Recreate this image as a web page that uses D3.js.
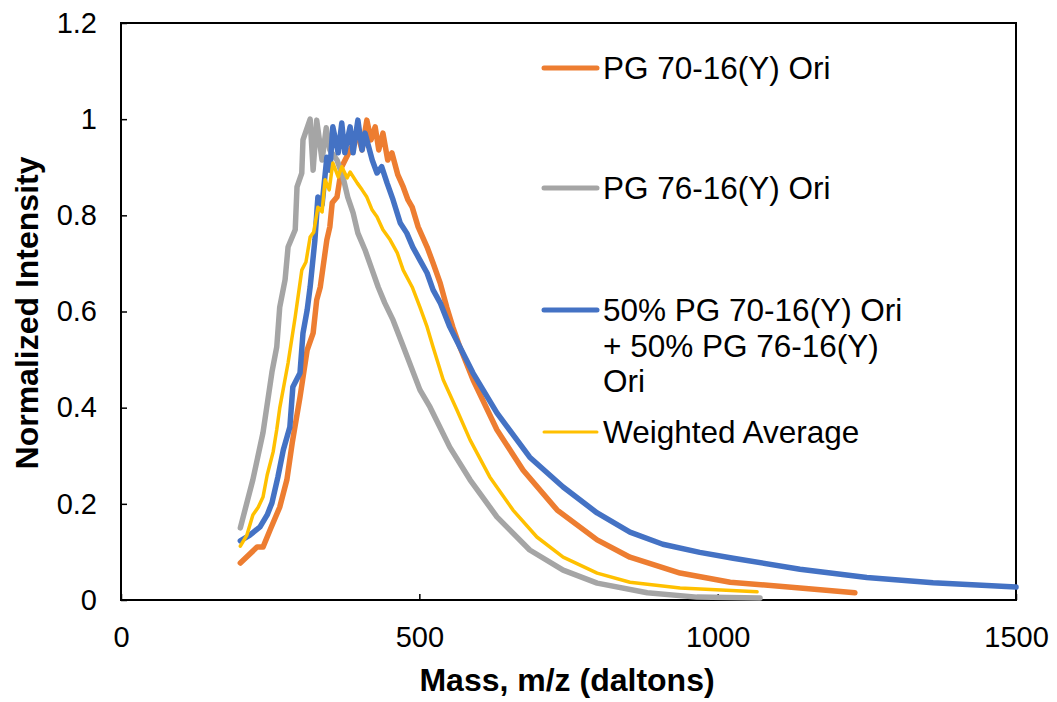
<!DOCTYPE html>
<html>
<head>
<meta charset="utf-8">
<script src="https://cdn.jsdelivr.net/npm/d3@7"></script>
<style>
  body { margin: 0; background: #fff; }
  text { font-family: Arial, "Liberation Sans", sans-serif; }
</style>
</head>
<body>
<div id="chart"></div>
<script>
// series data: [mass, normalized intensity]
var pg70 = [[200,0.077],[228,0.110],[238,0.110],[250,0.146],[266,0.193],[278,0.250],[287,0.327],[300,0.422],
  [312,0.520],[322,0.555],[328,0.624],[334,0.651],[345,0.749],[350,0.776],[354,0.826],[362,0.838],[370,0.901],
  [384,0.936],[397,0.967],[404,0.936],[412,0.998],[419,0.957],[426,0.984],[432,0.936],[439,0.971],[447,0.915],
  [454,0.930],[464,0.884],[473,0.859],[481,0.832],[488,0.817],[498,0.776],[513,0.734],[523,0.701],[535,0.659],
  [546,0.609],[556,0.568],[568,0.526],[590,0.458],[630,0.354],[674,0.270],[731,0.187],[798,0.125],[853,0.089],
  [937,0.056],[1021,0.037],[1138,0.025],[1230,0.015]];

var pg76 = [[200,0.150],[221,0.250],[238,0.348],[253,0.474],[261,0.526],[266,0.609],[275,0.666],[280,0.734],
  [292,0.770],[295,0.859],[303,0.888],[305,0.957],[317,1.000],[322,0.894],[328,0.998],[337,0.915],[344,0.982],
  [350,0.936],[362,0.915],[372,0.880],[380,0.838],[389,0.805],[397,0.763],[409,0.728],[421,0.686],[431,0.651],
  [442,0.618],[456,0.582],[471,0.534],[501,0.437],[518,0.401],[551,0.318],[585,0.250],[630,0.173],[685,0.104],
  [741,0.062],[798,0.035],[882,0.015],[965,0.006],[1071,0.004]];

var mix50 = [[200,0.123],[216,0.135],[233,0.152],[245,0.177],[253,0.202],[263,0.256],[272,0.312],[283,0.360],
  [288,0.443],[300,0.472],[305,0.555],[312,0.603],[317,0.651],[325,0.749],[330,0.838],[337,0.822],[345,0.921],
  [350,0.894],[355,0.984],[364,0.930],[370,0.992],[375,0.930],[384,0.984],[389,0.930],[397,0.998],[404,0.936],
  [409,0.971],[421,0.915],[429,0.888],[437,0.901],[446,0.867],[456,0.832],[468,0.784],[479,0.763],[489,0.734],
  [501,0.707],[513,0.680],[523,0.645],[535,0.618],[551,0.568],[568,0.526],[590,0.472],[630,0.389],[685,0.297],
  [741,0.235],[798,0.181],[853,0.141],[908,0.116],[970,0.099],[1026,0.087],[1138,0.064],[1250,0.047],
  [1361,0.036],[1500,0.027]];

var weighted = [[200,0.112],[211,0.135],[221,0.177],[230,0.193],[238,0.214],[245,0.260],[255,0.308],[261,0.354],
  [266,0.399],[280,0.493],[292,0.589],[303,0.686],[310,0.703],[317,0.755],[323,0.765],[330,0.817],[337,0.807],
  [342,0.874],[349,0.853],[355,0.909],[364,0.880],[370,0.901],[379,0.878],[384,0.890],[396,0.867],[404,0.853],
  [412,0.838],[421,0.811],[429,0.797],[439,0.770],[451,0.749],[463,0.722],[473,0.686],[488,0.651],[501,0.609],
  [513,0.568],[523,0.526],[540,0.458],[563,0.395],[585,0.333],[618,0.256],[657,0.187],[697,0.131],[741,0.089],
  [798,0.056],[853,0.037],[937,0.025],[1066,0.017]];

var xTicks = [0, 500, 1000, 1500];
var yTicks = [0, 0.2, 0.4, 0.6, 0.8, 1, 1.2];

var seriesNames = ["PG 70-16(Y) Ori", "PG 76-16(Y) Ori", "50% PG 70-16(Y) Ori + 50% PG 76-16(Y) Ori", "Weighted Average"];
var seriesColors = ["#ED7D31", "#A5A5A5", "#4472C4", "#FFC000"];
var seriesWidths = [5.5, 5.5, 5.5, 3.5];

var width = 1057, height = 702;
var margin = {top: 23, right: 41, bottom: 102, left: 121};
var w = width - margin.left - margin.right,
    h = height - margin.top - margin.bottom;

var svg = d3.select("#chart")
  .append("svg")
    .attr("width", width)
    .attr("height", height)
  .append("g")
    .attr("transform", "translate(" + margin.left + "," + margin.top + ")");

var x = d3.scaleLinear().domain([0, 1500]).range([0, w]);
var y = d3.scaleLinear().domain([0, 1.2]).range([h, 0]);

// axes with inside ticks
var xAxis = svg.append("g")
  .attr("transform", "translate(0," + h + ")")
  .call(d3.axisBottom(x).tickValues(xTicks).tickSize(-6).tickPadding(26).tickFormat(d3.format("d")));
var yAxis = svg.append("g")
  .call(d3.axisLeft(y).tickValues(yTicks).tickSize(-6).tickPadding(24).tickFormat(function(d){ return d3.format("")(d); }));

[xAxis, yAxis].forEach(function(a){
  a.select(".domain").remove();
  a.selectAll(".tick line").attr("stroke", "#000").attr("stroke-width", 1.5);
  a.selectAll(".tick text").style("font-size", "29px").attr("fill", "#000");
});

// plot frame
svg.append("rect")
  .attr("width", w).attr("height", h)
  .attr("fill", "none").attr("stroke", "#000").attr("stroke-width", 2);

var line = d3.line()
  .x(function(d){ return x(d[0]); })
  .y(function(d){ return y(d[1]); });

var allSeries = [pg70, pg76, mix50, weighted];
svg.selectAll("path.series")
  .data(allSeries)
  .enter()
  .append("path")
    .attr("class", "series")
    .attr("d", line)
    .attr("fill", "none")
    .attr("stroke", function(d,i){ return seriesColors[i]; })
    .attr("stroke-width", function(d,i){ return seriesWidths[i]; })
    .attr("stroke-linejoin", "round")
    .attr("stroke-linecap", "round");

// axis titles
svg.append("text")
  .attr("x", 567 - margin.left)
  .attr("y", 691 - margin.top)
  .attr("text-anchor", "middle")
  .style("font-size", "32px")
  .style("font-weight", "bold")
  .text("Mass, m/z (daltons)");

svg.append("text")
  .attr("transform", "translate(" + (38 - margin.left) + "," + (313 - margin.top) + ") rotate(-90)")
  .attr("text-anchor", "middle")
  .style("font-size", "32px")
  .style("font-weight", "bold")
  .text("Normalized Intensity");

// legend
var legendRows = [
  {lines: ["PG 70-16(Y) Ori"], y: 68},
  {lines: ["PG 76-16(Y) Ori"], y: 188},
  {lines: ["50% PG 70-16(Y) Ori", "+ 50% PG 76-16(Y)", "Ori"], y: 310},
  {lines: ["Weighted Average"], y: 432}
];
var legend = svg.append("g").attr("transform", "translate(" + (544 - margin.left) + "," + (-margin.top) + ")");
legendRows.forEach(function(r, i){
  legend.append("line")
    .attr("x1", 0).attr("x2", 53)
    .attr("y1", r.y).attr("y2", r.y)
    .attr("stroke", seriesColors[i])
    .attr("stroke-width", seriesWidths[i] - 0.5)
    .attr("stroke-linecap", "round");
  var t = legend.append("text")
    .attr("x", 59)
    .attr("y", r.y + 11)
    .style("font-size", "31.5px")
    .attr("fill", "#000");
  r.lines.forEach(function(s, j){
    t.append("tspan").attr("x", 59).attr("dy", j === 0 ? 0 : 35.5).text(s);
  });
});
</script>
</body>
</html>
